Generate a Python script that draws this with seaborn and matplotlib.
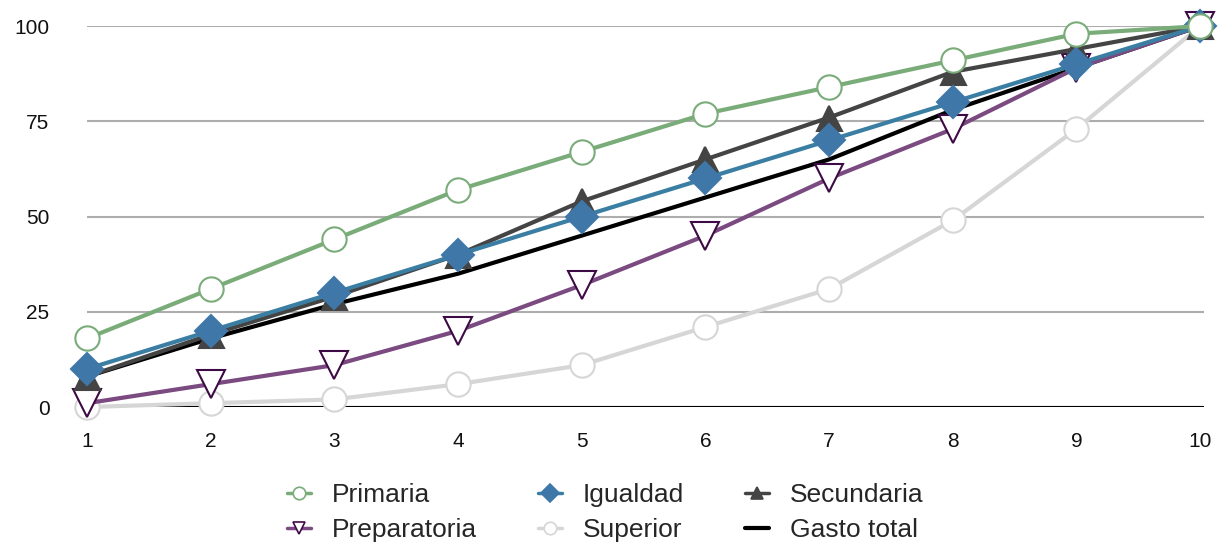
import pandas as pd
import matplotlib.pyplot as plt
import seaborn as sns

# decile (1-10) and cumulative share per spending category
deciles = [1, 2, 3, 4, 5, 6, 7, 8, 9, 10]
primaria = [18, 31, 44, 57, 67, 77, 84, 91, 98, 100]
preparatoria = [1, 6, 11, 20, 32, 45, 60, 73, 89, 100]
igualdad = [10, 20, 30, 40, 50, 60, 70, 80, 90, 100]
superior = [0, 1, 2, 6, 11, 21, 31, 49, 73, 100]
secundaria = [8, 19, 29, 40, 54, 65, 76, 88, 94, 100]
gasto_total = [8, 18, 27, 35, 45, 55, 65, 78, 89, 100]

series = {
    "Primaria": primaria,
    "Preparatoria": preparatoria,
    "Igualdad": igualdad,
    "Superior": superior,
    "Secundaria": secundaria,
    "Gasto total": gasto_total,
}

df = pd.concat(
    [pd.DataFrame({"decil": deciles, "valor": v, "serie": k}) for k, v in series.items()],
    ignore_index=True,
)

# line colour, marker, marker face, marker edge, size, zorder
styles = {
    "Superior": dict(color="#d6d6d6", marker="o", mfc="white", mec="#d6d6d6", ms=17.5, z=3),
    "Gasto total": dict(color="#000000", marker=None, mfc=None, mec=None, ms=0, z=4),
    "Preparatoria": dict(color="#7a4a80", marker="v", mfc="white", mec="#3d0a45", ms=20, z=5),
    "Secundaria": dict(color="#444444", marker="^", mfc="#444444", mec="#444444", ms=18, z=6),
    "Igualdad": dict(color="#3a7fa3", marker="D", mfc="#3f78a8", mec="#3f78a8", ms=16.5, z=7),
    "Primaria": dict(color="#7aac7a", marker="o", mfc="white", mec="#7aac7a", ms=17.5, z=8),
}

sns.set_style("white")
plt.rcParams["font.family"] = ["Liberation Sans", "DejaVu Sans"]

fig = plt.figure(figsize=(12.18, 5.44), dpi=100)
ax = fig.add_axes([0.0714, 0.2518, 0.917, 0.7002])

for name in ["Superior", "Gasto total", "Preparatoria", "Secundaria", "Igualdad", "Primaria"]:
    st = styles[name]
    sub = df[df["serie"] == name]
    kw = dict(color=st["color"], linewidth=3, zorder=st["z"])
    if st["marker"]:
        kw.update(marker=st["marker"], markerfacecolor=st["mfc"], markeredgecolor=st["mec"],
                  markersize=st["ms"], markeredgewidth=1.5)
    sns.lineplot(data=sub, x="decil", y="valor", ax=ax, legend=False, **kw)

for line in ax.get_lines():
    line.set_clip_on(False)

ax.set_xlim(1, 10.03)
ax.set_ylim(0, 100)
ax.set_yticks([0, 25, 50, 75, 100])
ax.set_xticks(deciles)
ax.yaxis.grid(True, color="#adadad", linewidth=1.5, zorder=0)
ax.set_axisbelow(True)
ax.axhline(0, color="black", linewidth=1.5, zorder=2)
for s in ax.spines.values():
    s.set_visible(False)
ax.tick_params(axis="both", length=0, labelsize=15, colors="#111111")
ax.tick_params(axis="y", pad=27)
ax.tick_params(axis="x", pad=18)
ax.set_xlabel("")
ax.set_ylabel("")

# legend, column-major order for ncol=3
order = ["Primaria", "Preparatoria", "Igualdad", "Superior", "Secundaria", "Gasto total"]
handles = []
for name in order:
    st = styles[name]
    if st["marker"]:
        h = plt.Line2D([], [], color=st["color"], linewidth=2.5, marker=st["marker"],
                       markerfacecolor=st["mfc"], markeredgecolor=st["mec"], markersize=9,
                       markeredgewidth=1.2)
    else:
        h = plt.Line2D([], [], color=st["color"], linewidth=3)
    handles.append(h)
fig.legend(handles, order, loc="upper center", bbox_to_anchor=(0.497, 0.155), ncol=3,
           frameon=False, fontsize=19, handlelength=0.9, columnspacing=2.3,
           handletextpad=0.8, labelspacing=0.4)

fig.savefig("out.png", dpi=100)
